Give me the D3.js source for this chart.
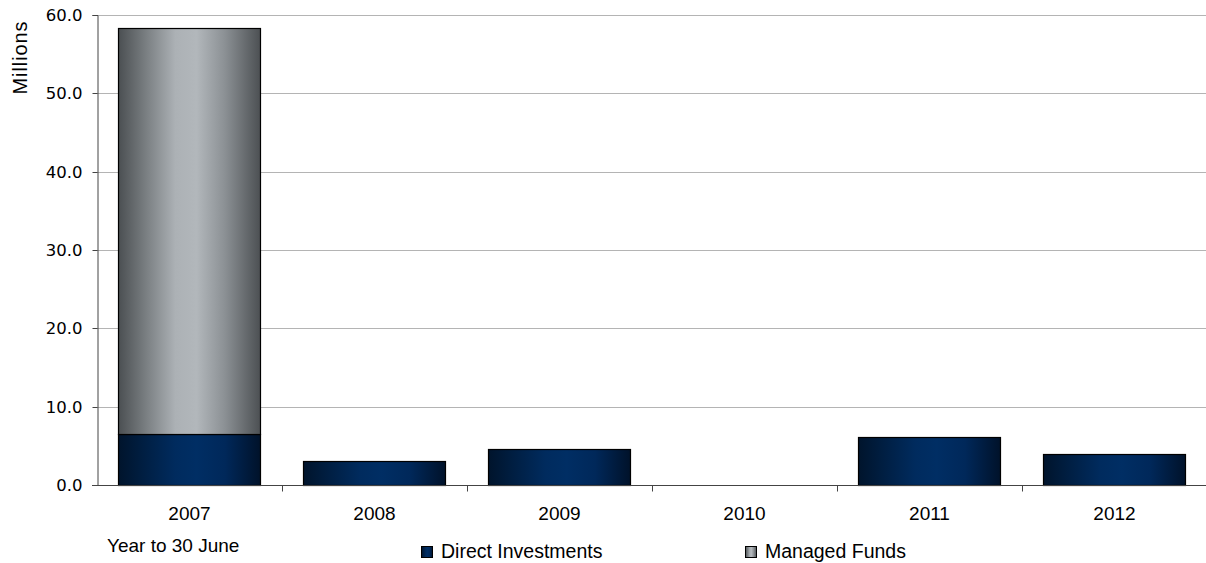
<!DOCTYPE html>
<html>
<head>
<meta charset="utf-8">
<script src="https://cdn.jsdelivr.net/npm/d3@7"></script>
<style>
  html, body { margin: 0; padding: 0; background: #fff; }
  svg text { font-family: "Liberation Sans", Arial, sans-serif; fill: #000; }
</style>
</head>
<body>
<svg id="chart" width="1206" height="563"></svg>
<script>
// Investment totals by financial year (millions)
const years = ["2007", "2008", "2009", "2010", "2011", "2012"];
const directInvestments = [6.5, 3.1, 4.6, 0.0, 6.1, 4.0];
const managedFunds = [51.8, 0.0, 0.0, 0.0, 0.0, 0.0];
const yTicks = [0, 10, 20, 30, 40, 50, 60];
const seriesNames = ["Direct Investments", "Managed Funds"];

const svg = d3.select("#chart");
const margin = { left: 97, right: 0, top: 15, bottom: 78 };
const W = 1206, H = 563;
const plotRight = W - margin.right;
const plotBottom = H - margin.bottom;

const x = d3.scaleBand().domain(years).range([margin.left, plotRight + 1])
  .paddingInner(0.23).paddingOuter(0.115);
const xOuter = d3.scaleBand().domain(years).range([margin.left, plotRight + 1]);
const y = d3.scaleLinear().domain([0, 60]).range([plotBottom, margin.top]);

// Horizontal shading for the bars: dark edges, lighter centre
const defs = svg.append("defs");
function shade(id, stops) {
  const g = defs.append("linearGradient").attr("id", id)
    .attr("x1", "0%").attr("x2", "100%").attr("y1", "0%").attr("y2", "0%");
  stops.forEach(([o, c]) => g.append("stop").attr("offset", o).attr("stop-color", c));
}
shade("gradDirect", [["0%", "#00142c"], ["15%", "#001d3f"], ["40%", "#002b5e"], ["55%", "#002e64"], ["75%", "#00285a"], ["100%", "#00122a"]]);
shade("gradManaged", [["0%", "#4b4f52"], ["15%", "#6f7477"], ["40%", "#acb1b5"], ["55%", "#b2b7bb"], ["75%", "#8b9094"], ["100%", "#4c5053"]]);

// Gridlines
svg.append("g").selectAll("line").data(yTicks.filter(d => d > 0)).join("line")
  .attr("x1", margin.left).attr("x2", W)
  .attr("y1", d => Math.round(y(d)) + 0.5).attr("y2", d => Math.round(y(d)) + 0.5)
  .attr("stroke", "#b4b4b4").attr("stroke-width", 1);

// Stacked bars
const stackData = years.map((yr, i) => ({ year: yr, direct: directInvestments[i], managed: managedFunds[i] }));
const stack = d3.stack().keys(["direct", "managed"])(stackData);
const fills = { direct: "url(#gradDirect)", managed: "url(#gradManaged)" };

svg.append("g").selectAll("g").data(stack).join("g")
  .attr("fill", d => fills[d.key])
  .selectAll("rect").data(d => d.filter(p => p[1] - p[0] > 0)).join("rect")
  .attr("x", d => Math.round(x(d.data.year)) + 0.5)
  .attr("width", Math.round(x.bandwidth()))
  .attr("y", d => Math.round(y(d[1])) + 0.5)
  .attr("height", d => Math.round(y(d[0])) - Math.round(y(d[1])))
  .attr("stroke", "#000").attr("stroke-width", 1.2);

// Y axis
const yAxis = svg.append("g").attr("transform", `translate(${margin.left + 0.5},0)`)
  .call(d3.axisLeft(y).tickValues(yTicks).tickFormat(d3.format(".1f")).tickSize(5).tickPadding(10));
yAxis.select(".domain").attr("stroke", "#444");
yAxis.selectAll(".tick line").attr("stroke", "#444");
yAxis.selectAll(".tick text").style("font-family", "'DejaVu Sans', Verdana, sans-serif")
  .style("font-size", "16.5px").attr("fill", "#000");
yAxis.selectAll(".tick").attr("transform", d => `translate(0,${Math.round(y(d)) + 0.5})`);

// X axis
const xAxisG = svg.append("g").attr("transform", `translate(0,${plotBottom + 0.5})`);
xAxisG.append("line").attr("x1", margin.left - 5).attr("x2", W).attr("y1", 0).attr("y2", 0)
  .attr("stroke", "#444");
xAxisG.selectAll("line.tick").data(years.slice(1)).join("line").attr("class", "tick")
  .attr("x1", d => Math.round(xOuter(d)) + 0.5).attr("x2", d => Math.round(xOuter(d)) + 0.5)
  .attr("y1", 0).attr("y2", 6).attr("stroke", "#444");
xAxisG.selectAll("text").data(years).join("text")
  .attr("x", d => xOuter(d) + xOuter.bandwidth() / 2)
  .attr("y", 34).attr("text-anchor", "middle").style("font-size", "19px")
  .text(d => d);

// Axis titles
svg.append("text").attr("transform", "translate(27,57.5) rotate(-90)")
  .attr("text-anchor", "middle").style("font-size", "20px").style("letter-spacing", "0.9px")
  .text("Millions");
svg.append("text").attr("x", 107).attr("y", 552).style("font-size", "19px").text("Year to 30 June");

// Legend
const legend = [
  { name: seriesNames[0], fill: "url(#gradDirect)", x: 421 },
  { name: seriesNames[1], fill: "url(#gradManaged)", x: 745 }
];
const lg = svg.append("g").selectAll("g").data(legend).join("g")
  .attr("transform", d => `translate(${d.x},546)`);
lg.append("rect").attr("x", 0.5).attr("y", 0.5).attr("width", 11).attr("height", 11)
  .attr("fill", d => d.fill).attr("stroke", "#000").attr("stroke-width", 1);
lg.append("text").attr("x", 20).attr("y", 11.5).style("font-size", "19.5px").text(d => d.name);
</script>
</body>
</html>
